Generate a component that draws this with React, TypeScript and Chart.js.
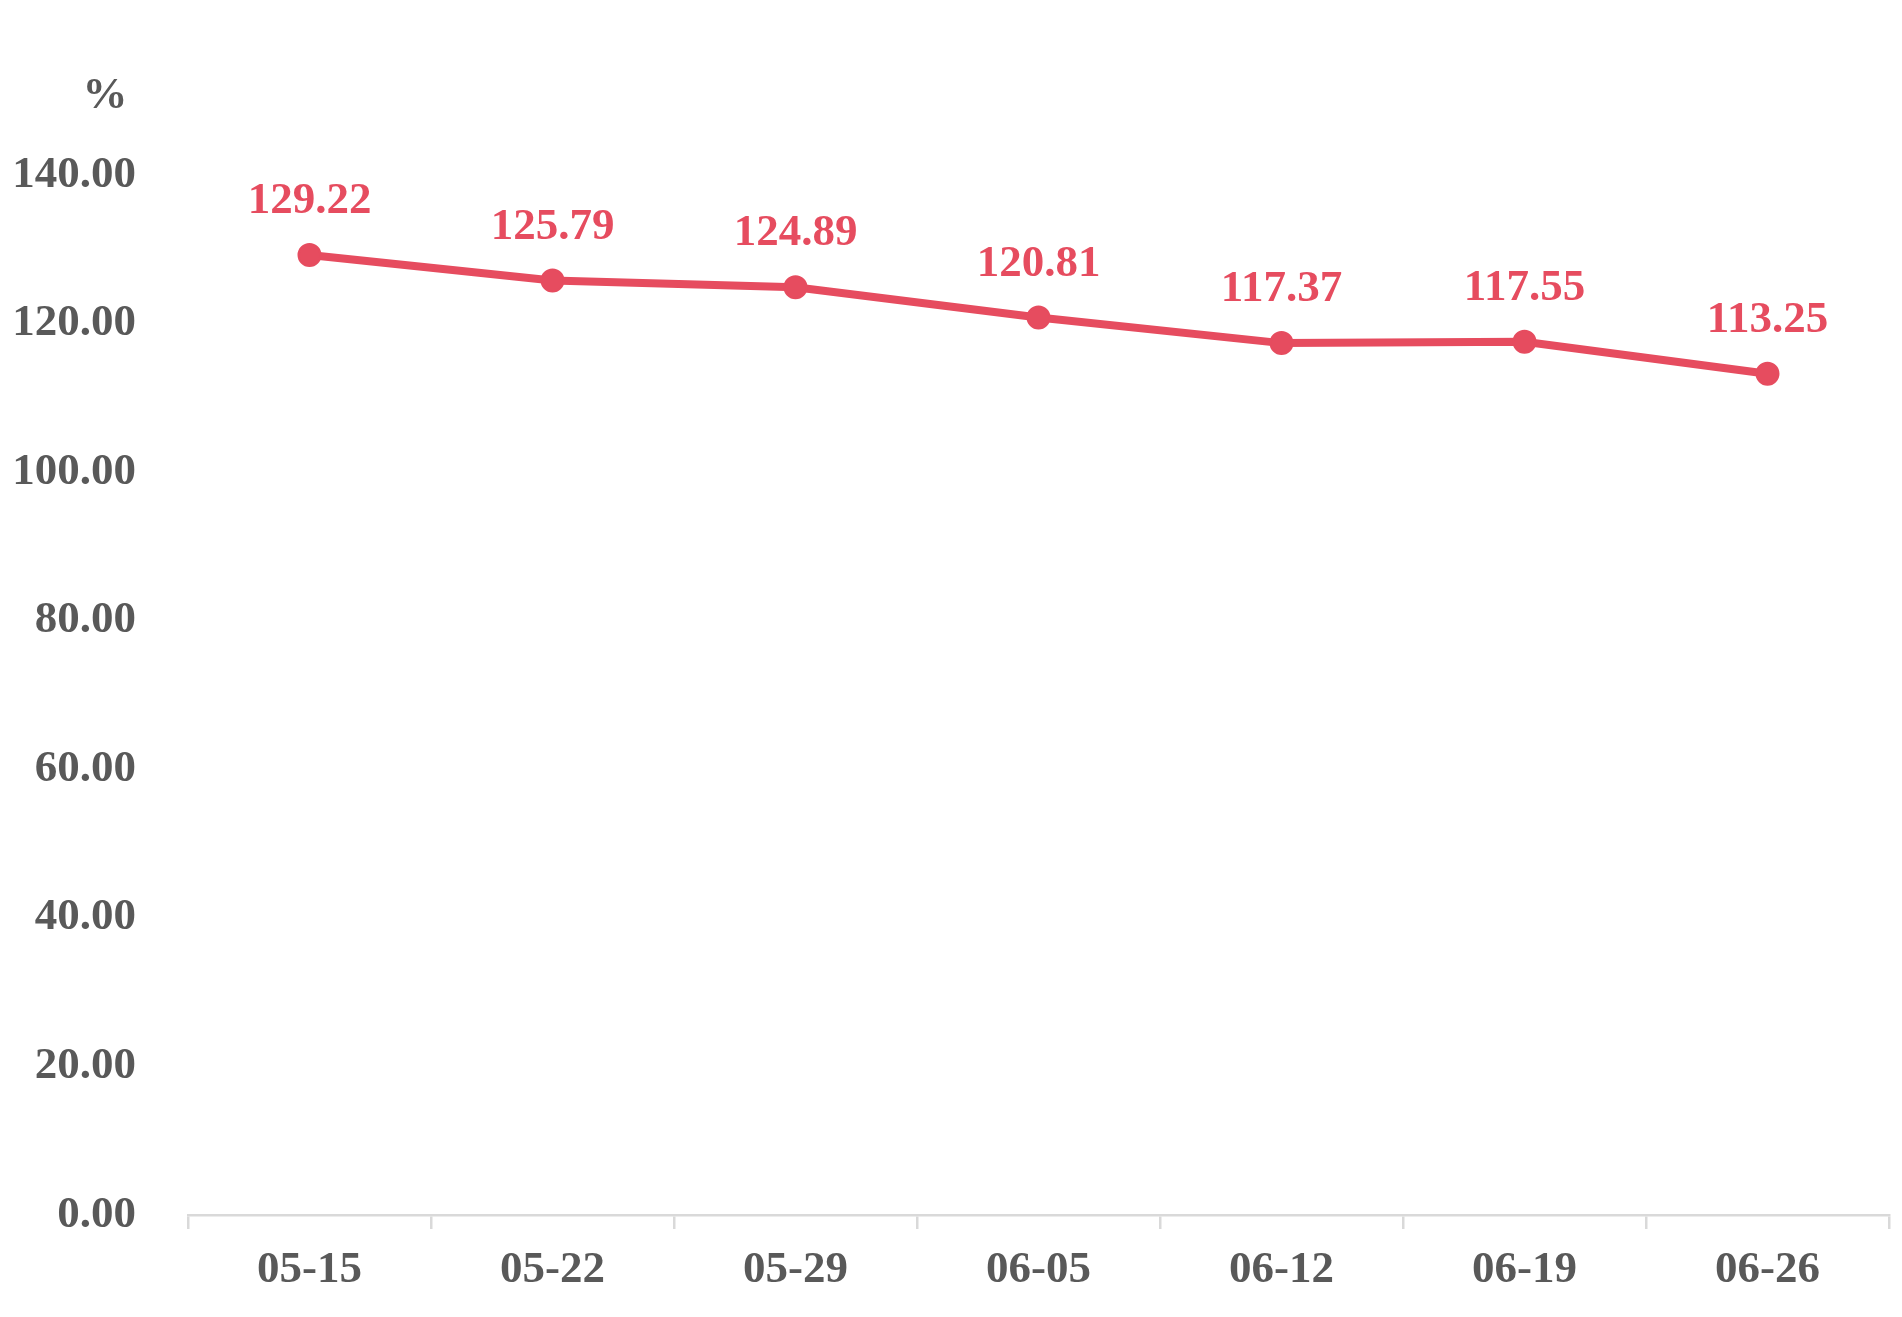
import React, { useEffect, useRef } from "react";
import { Chart, registerables } from "chart.js";

Chart.register(...registerables);

const categories: string[] = ["05-15", "05-22", "05-29", "06-05", "06-12", "06-19", "06-26"];
const values: number[] = [129.22, 125.79, 124.89, 120.81, 117.37, 117.55, 113.25];
const unitLabel = "%";
const yMin = 0;
const yMax = 140;
const yStep = 20;

const FONT = '"Liberation Serif", "Times New Roman", serif';
const LINE_COLOR = "rgb(230, 76, 95)";
const TEXT_COLOR = "#595959";
const AXIS_COLOR = "#d9d9d9";

const W = 1902;
const H = 1317;
const AXIS_Y = 1215;

const labelPlugin = {
  id: "valueLabels",
  afterDatasetsDraw(chart: any) {
    const ctx = chart.ctx;
    const meta = chart.getDatasetMeta(0);
    ctx.save();
    ctx.font = `bold 45px ${FONT}`;
    ctx.fillStyle = LINE_COLOR;
    ctx.textAlign = "center";
    ctx.textBaseline = "alphabetic";
    meta.data.forEach((pt: any, i: number) => {
      ctx.fillText(values[i].toFixed(2), pt.x, pt.y - 42);
    });
    ctx.fillStyle = TEXT_COLOR;
    ctx.textBaseline = "middle";
    ctx.fillText(unitLabel, 105, 96);
    ctx.restore();
  },
};

export default function App() {
  const ref = useRef<HTMLCanvasElement | null>(null);
  useEffect(() => {
    if (!ref.current) return;
    const chart = new Chart(ref.current, {
      type: "line",
      data: {
        labels: categories,
        datasets: [
          {
            data: values,
            borderColor: LINE_COLOR,
            backgroundColor: LINE_COLOR,
            borderWidth: 8,
            pointRadius: 11,
            pointBorderWidth: 2,
            pointBackgroundColor: LINE_COLOR,
            pointBorderColor: LINE_COLOR,
            tension: 0,
          },
        ],
      },
      options: {
        responsive: false,
        animation: false,
        devicePixelRatio: 1,
        layout: { padding: { top: 175, right: 11, bottom: 0, left: 0 } },
        plugins: {
          legend: { display: false },
          tooltip: { enabled: false },
          title: { display: false },
        },
        scales: {
          x: {
            type: "category",
            offset: true,
            grid: {
              display: true,
              offset: true,
              drawOnChartArea: false,
              drawTicks: true,
              tickLength: 14,
              color: AXIS_COLOR,
              lineWidth: 2.5,
            },
            border: { display: true, color: AXIS_COLOR, width: 2.5 },
            ticks: {
              color: TEXT_COLOR,
              font: { family: FONT, size: 45, weight: "bold" },
              padding: 14,
              maxRotation: 0,
              autoSkip: false,
            },
            afterFit(scale: any) {
              scale.height = H - AXIS_Y;
            },
          },
          y: {
            min: yMin,
            max: yMax,
            grid: { display: false, drawTicks: false },
            border: { display: false },
            ticks: {
              stepSize: yStep,
              color: TEXT_COLOR,
              font: { family: FONT, size: 45, weight: "bold" },
              padding: 52,
              callback: (v: any) => Number(v).toFixed(2),
            },
            afterFit(scale: any) {
              scale.width = 188;
            },
          },
        },
      },
      plugins: [labelPlugin],
    } as any);
    return () => chart.destroy();
  }, []);
  return (
    <div style={{ position: "absolute", left: 0, top: 0, width: W, height: H, background: "#fff" }}>
      <canvas ref={ref} width={W} height={H} style={{ display: "block", width: W, height: H }} />
    </div>
  );
}
